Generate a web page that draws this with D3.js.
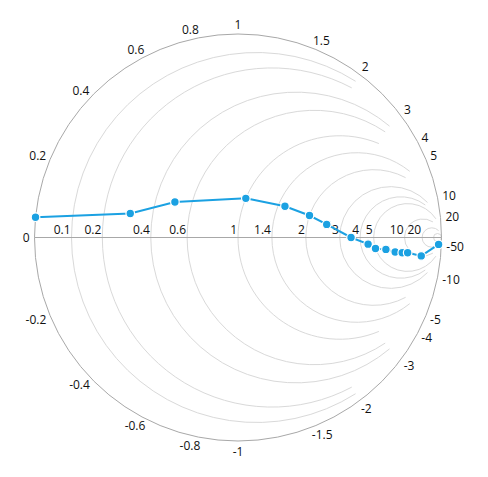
<!DOCTYPE html>
<html>
<head>
<meta charset="utf-8">
<script src="https://cdn.jsdelivr.net/npm/d3@7"></script>
<style>
  body { margin: 0; background: #fff; }
  svg text { font-family: "Segoe UI", "Open Sans", sans-serif; font-size: 12px; fill: #111; }
</style>
</head>
<body>
<svg width="488" height="477"></svg>
<script>
// series (normalised impedance)
var resistance = [0, 0.3, 0.5, 1.0, 1.5, 2.0, 2.5, 3.5, 4.5, 5.0, 6.0, 7.0, 8.0, 9.0, 10, 20];
var reactance  = [0.05, 0.1, 0.2, 0.4, 0.5, 0.5, 0.4, 0.0, -0.5, -1.0, -1.5, -2.5, -3.5, -4.5, -10, -50];

// axis values
var resistanceTicks  = [0.1, 0.2, 0.4, 0.6, 1, 1.4, 2, 3, 4, 5, 10, 20, 50];
var resistanceLabels = [0.1, 0.2, 0.4, 0.6, 1, 1.4, 2, 3, 4, 5, 10, 20];
var reactanceUpper   = [0, 0.2, 0.4, 0.6, 0.8, 1, 1.5, 2, 3, 4, 5, 10, 20];
var reactanceLower   = [-0.2, -0.4, -0.6, -0.8, -1, -1.5, -2, -3, -4, -5, -10, -50];

var svg = d3.select("svg"),
    cx = 238, cy = 237.5, R = 203.5;

// reflection plane -> pixels
var xScale = d3.scaleLinear().domain([-1, 1]).range([cx - R, cx + R]),
    yScale = d3.scaleLinear().domain([-1, 1]).range([cy + R, cy - R]);

function gamma(r, x) {
  var den = (r + 1) * (r + 1) + x * x;
  return [(r * r - 1 + x * x) / den, 2 * x / den];
}

// resistance circles stop at a reactance so the right side is not crowded
function stopAt(r) {
  if (r <= 0.2) return 2;
  if (r <= 1) return 3;
  if (r <= 2) return 5;
  if (r <= 4) return 10;
  if (r <= 10) return 20;
  if (r <= 20) return 50;
  return Infinity;
}

var grid = svg.append("g");

resistanceTicks.forEach(function(r) {
  var c = r / (1 + r), rad = 1 / (1 + r);
  var pcx = xScale(c), pcy = yScale(0), pr = xScale(c + rad) - pcx;
  var s = stopAt(r);
  if (s === Infinity) {
    grid.append("circle").attr("cx", pcx).attr("cy", pcy).attr("r", pr)
      .attr("fill", "none").attr("stroke", "#d9d9d9").attr("stroke-width", 1);
  } else {
    var g = gamma(r, s);
    var a = Math.atan2(yScale(g[1]) - pcy, xScale(g[0]) - pcx); // negative (upper)
    var p = d3.path();
    p.arc(pcx, pcy, pr, a, -a, true);
    grid.append("path").attr("d", p.toString())
      .attr("fill", "none").attr("stroke", "#d9d9d9").attr("stroke-width", 1);
  }
});

// outer circle and horizontal axis
svg.append("circle").attr("cx", cx).attr("cy", cy).attr("r", R)
  .attr("fill", "none").attr("stroke", "#a8a8a8").attr("stroke-width", 1);
svg.append("line")
  .attr("x1", xScale(-1)).attr("x2", xScale(1))
  .attr("y1", yScale(0)).attr("y2", yScale(0))
  .attr("stroke", "#a8a8a8").attr("stroke-width", 1);

// resistance labels, right aligned at the left point of each circle
svg.append("g").selectAll("text").data(resistanceLabels).enter().append("text")
  .attr("x", function(d) { return xScale((d - 1) / (d + 1)) - 1; })
  .attr("y", yScale(0) - 3.5)
  .attr("text-anchor", "end")
  .text(function(d) { return d; });

// reactance labels round the outer circle
var rl = svg.append("g");
reactanceUpper.concat(reactanceLower).forEach(function(x) {
  var g = gamma(0, x);
  var th = Math.atan2(g[1], g[0]);
  var t = rl.append("text").attr("text-anchor", "middle")
    .attr("dominant-baseline", "central").text(x);
  var w = t.node().getComputedTextLength();
  t.attr("x", xScale(g[0]) + Math.cos(th) * (w / 2 + 5))
   .attr("y", yScale(g[1]) - Math.sin(th) * 10);
});

// series
var pts = resistance.map(function(r, i) {
  var g = gamma(r, reactance[i]);
  return [xScale(g[0]), yScale(g[1])];
});

svg.append("path").datum(pts)
  .attr("d", d3.line())
  .attr("fill", "none").attr("stroke", "#1ba1e2").attr("stroke-width", 2);

svg.append("g").selectAll("circle").data(pts).enter().append("circle")
  .attr("cx", function(d) { return d[0]; })
  .attr("cy", function(d) { return d[1]; })
  .attr("r", 4.3)
  .attr("fill", "#1ba1e2")
  .attr("stroke", "#fff").attr("stroke-width", 1.2);
</script>
</body>
</html>
